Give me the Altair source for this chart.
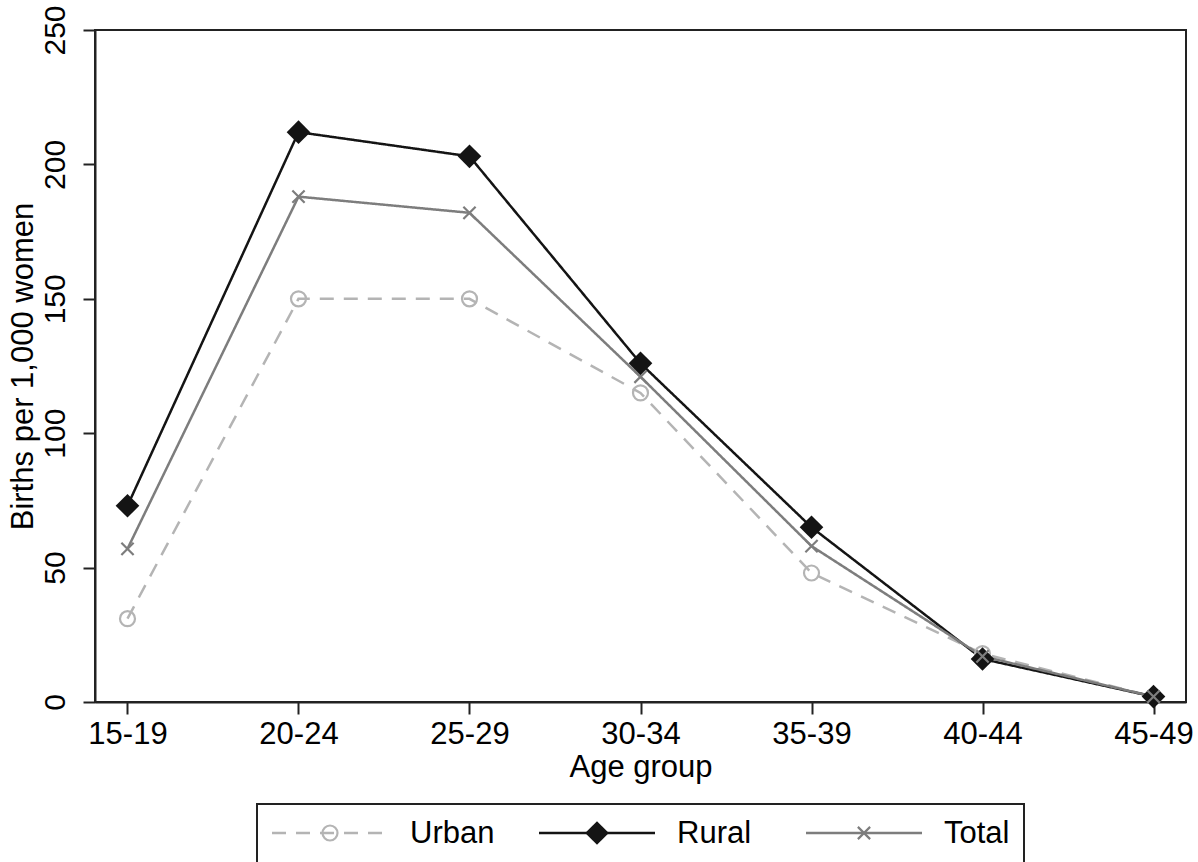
import altair as alt
import pandas as pd

ages = ["15-19", "20-24", "25-29", "30-34", "35-39", "40-44", "45-49"]
urban = [31, 150, 150, 115, 48, 18, 2]
rural = [73, 212, 203, 126, 65, 16, 2]
total = [57, 188, 182, 121, 58, 17, 2]
series_names = ["Urban", "Rural", "Total"]
series_colors = ["#b4b4b4", "#141414", "#7d7d7d"]

rows = []
for name, vals in zip(series_names, [urban, rural, total]):
    for a, v in zip(ages, vals):
        rows.append({"age": a, "rate": v, "series": name})
df = pd.DataFrame(rows)
leg_df = pd.DataFrame({"series": series_names})

FONT = "Liberation Sans"
FS = 31

x_enc = alt.X("age:N", sort=ages, scale=alt.Scale(type="point", padding=0.19),
              title="Age group",
              axis=alt.Axis(labelAngle=0, labelPadding=5, titlePadding=3))
y_enc = alt.Y("rate:Q", scale=alt.Scale(domain=[0, 250], nice=False, zero=True),
              title="Births per 1,000 women",
              axis=alt.Axis(values=[0, 50, 100, 150, 200, 250], labelAngle=270,
                            labelAlign="center", labelBaseline="bottom",
                            labelFontSize=30, labelPadding=13, titlePadding=1))

stroke_enc = alt.Stroke("series:N", sort=series_names, legend=None,
                        scale=alt.Scale(domain=series_names, range=series_colors))
dash_enc = alt.StrokeDash("series:N", sort=series_names, legend=None,
                          scale=alt.Scale(domain=series_names,
                                          range=[[14, 10], [1, 0], [1, 0]]))

base = alt.Chart(df)

lines = base.mark_line(strokeWidth=2.5).encode(
    x=x_enc, y=y_enc, stroke=stroke_enc, strokeDash=dash_enc)


def markers(chart, xe, ye):
    u = chart.transform_filter(alt.datum.series == "Urban").mark_point(
        shape="circle", filled=False, size=225, strokeWidth=2.2,
        color=series_colors[0], opacity=1).encode(x=xe, y=ye)
    r = chart.transform_filter(alt.datum.series == "Rural").mark_point(
        shape="diamond", filled=True, size=560, color=series_colors[1],
        opacity=1).encode(x=xe, y=ye)
    t = chart.transform_filter(alt.datum.series == "Total").mark_point(
        shape="M-1,-1L1,1M-1,1L1,-1", filled=False, size=150, strokeWidth=2.2,
        color=series_colors[2], opacity=1).encode(x=xe, y=ye)
    return [u, r, t]


main = alt.layer(lines, *markers(base, x_enc, y_enc))

# legend panel drawn below the plot (legend row at 803 px from plot top)
LEG_Y = 803
HALF = 58
lbase = alt.Chart(leg_df)
lx = alt.X("series:N", sort=series_names, axis=None,
           scale=alt.Scale(type="point", domain=series_names, range=[235, 769],
                           padding=0))
ly = alt.value(LEG_Y)

box = lbase.mark_rect(fill="white", stroke="#222222", strokeWidth=2).encode(
    x=alt.value(162), x2=alt.value(929), y=alt.value(774), y2=alt.value(880))
leg_lines = lbase.mark_rule(strokeWidth=2.5, xOffset=-HALF, x2Offset=HALF).encode(
    x=lx, x2=alt.X2("series:N"), y=ly, stroke=stroke_enc, strokeDash=dash_enc)
leg_text = lbase.mark_text(align="left", baseline="middle", dx=HALF + 22,
                           font=FONT, fontSize=FS, color="black").encode(
    x=lx, y=alt.value(LEG_Y + 1), text="series:N")

legend = alt.layer(box, leg_lines, *markers(lbase, lx, ly), leg_text)

chart = alt.layer(main, legend).resolve_scale(
    x="independent", y="independent"
).properties(
    width=1091, height=672,
    autosize=alt.AutoSizeParams(type="none"),
    padding={"left": 95, "top": 30, "right": 12, "bottom": 160},
    background="white",
).configure_view(
    stroke="#222222", strokeWidth=2
).configure_axis(
    domainColor="#222222", domainWidth=2, tickColor="#222222", tickWidth=2,
    tickSize=12, grid=False, labelFont=FONT, labelFontSize=FS, labelColor="black",
    titleFont=FONT, titleFontSize=FS, titleFontWeight="normal", titleColor="black",
)

chart.save("out.html", embed_options={"renderer": "svg", "actions": False})
